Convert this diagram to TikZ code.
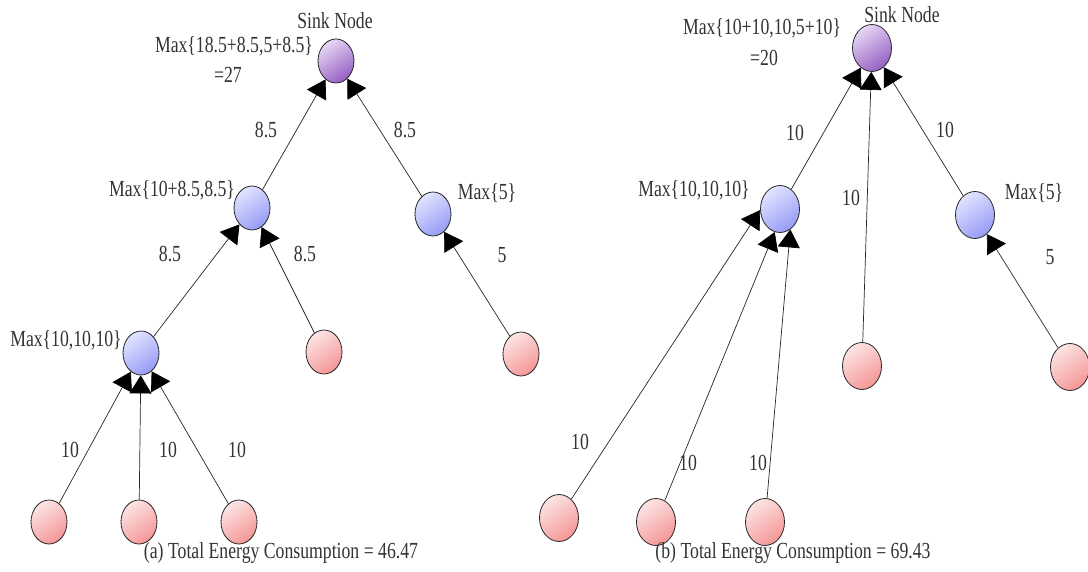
\documentclass[tikz,border=0pt]{standalone}
\usepackage{fontspec}
\setmainfont{Liberation Serif}[FakeStretch=0.77]
\usetikzlibrary{arrows.meta,shapes.geometric}
\definecolor{sinkdark}{RGB}{150,95,195}
\definecolor{sinklight}{RGB}{230,215,245}
\definecolor{middark}{RGB}{150,155,245}
\definecolor{midlight}{RGB}{225,228,255}
\definecolor{leafdark}{RGB}{245,150,150}
\definecolor{leaflight}{RGB}{252,228,228}
\begin{document}
\begin{tikzpicture}[x=1pt,y=-1pt,
  every node/.style={font=\fontsize{23}{24}\selectfont, inner sep=0pt},
  vtx/.style={ellipse, draw=black!85, line width=0.8pt, minimum width=36pt, minimum height=44pt},
  vtxb/.style={vtx, minimum width=39pt, minimum height=47pt},
  sinkfill/.style={shading=axis, top color=sinklight, bottom color=sinkdark, shading angle=35},
  midfill/.style={shading=axis, top color=midlight, bottom color=middark, shading angle=35},
  leaffill/.style={shading=axis, top color=leaflight, bottom color=leafdark, shading angle=35},
  link/.style={draw=black!85, line width=0.7pt, -{Triangle[length=18pt,width=22pt,color=black]}},
  txt/.style={text=black!80}
]
\useasboundingbox (0,0) rectangle (1088,572);

% ---------------- tree (a) ----------------
\node[vtx, sinkfill] (sA)  at (336,61)  {};
\node[vtx, midfill]  (mA1) at (252,208) {};
\node[vtx, midfill]  (mA2) at (433,214) {};
\node[vtx, midfill]  (lA)  at (141,353) {};
\node[vtx, leaffill] (fA1) at (324,352) {};
\node[vtx, leaffill] (fA2) at (521,354) {};
\node[vtx, leaffill] (fA3) at (49,522)  {};
\node[vtx, leaffill] (fA4) at (139,522) {};
\node[vtx, leaffill] (fA5) at (239,522) {};

\draw[link] (mA1) -- (sA);
\draw[link] (mA2) -- (sA);
\draw[link] (lA)  -- (mA1);
\draw[link] (fA1) -- (mA1);
\draw[link] (fA2) -- (mA2);
\draw[link] (fA3) -- (lA);
\draw[link] (fA4) -- (lA);
\draw[link] (fA5) -- (lA);

\node[txt] (tSA)  at (335,21)  {Sink Node};
\node[txt] (tMA)  at (234,46)  {Max\{18.5+8.5,5+8.5\}};
\node[txt] (tEA)  at (228,75)  {=27};
\node[txt] (eA1)  at (266,130) {8.5};
\node[txt] (eA2)  at (405,130) {8.5};
\node[txt] (tM1)  at (172,190) {Max\{10+8.5,8.5\}};
\node[txt] (tM2)  at (487,193) {Max\{5\}};
\node[txt] (eA3)  at (170,254) {8.5};
\node[txt] (eA4)  at (305,254) {8.5};
\node[txt] (eA5)  at (502,255) {5};
\node[txt] (tL)   at (66,340)  {Max\{10,10,10\}};
\node[txt] (eA6)  at (70,450)  {10};
\node[txt] (eA7)  at (168,450) {10};
\node[txt] (eA8)  at (237,450) {10};
\node[txt] (capA) at (281,553) {(a) Total Energy Consumption = 46.47};

% ---------------- tree (b) ----------------
\node[vtxb, sinkfill] (sB)  at (872,48)  {};
\node[vtxb, midfill]  (mB1) at (780,209) {};
\node[vtxb, midfill]  (mB2) at (975,215) {};
\node[vtxb, leaffill] (fB1) at (862,366) {};
\node[vtxb, leaffill] (fB2) at (1070,367) {};
\node[vtxb, leaffill] (fB3) at (559,518) {};
\node[vtxb, leaffill] (fB4) at (656,522) {};
\node[vtxb, leaffill] (fB5) at (765,522) {};

\draw[link] (mB1) -- (sB);
\draw[link] (fB1) -- (sB);
\draw[link] (mB2) -- (sB);
\draw[link] (fB3) -- (mB1.183);
\draw[link] (fB4) -- (mB1.-103);
\draw[link] (fB5) -- (mB1.-63);
\draw[link] (fB2) -- (mB2);

\node[txt] (tSB)  at (902,15)  {Sink Node};
\node[txt] (tMB)  at (762,28)  {Max\{10+10,10,5+10\}};
\node[txt] (tEB)  at (764,58)  {=20};
\node[txt] (eB1)  at (795,133) {10};
\node[txt] (eB2)  at (945,130) {10};
\node[txt] (eB3)  at (851,198) {10};
\node[txt] (tMB1) at (694,190) {Max\{10,10,10\}};
\node[txt] (tMB2) at (1034,193) {Max\{5\}};
\node[txt] (eB4)  at (1050,257) {5};
\node[txt] (eB5)  at (580,442) {10};
\node[txt] (eB6)  at (688,463) {10};
\node[txt] (eB7)  at (758,463) {10};
\node[txt] (capB) at (793,553) {(b) Total Energy Consumption = 69.43};
\end{tikzpicture}
\end{document}
